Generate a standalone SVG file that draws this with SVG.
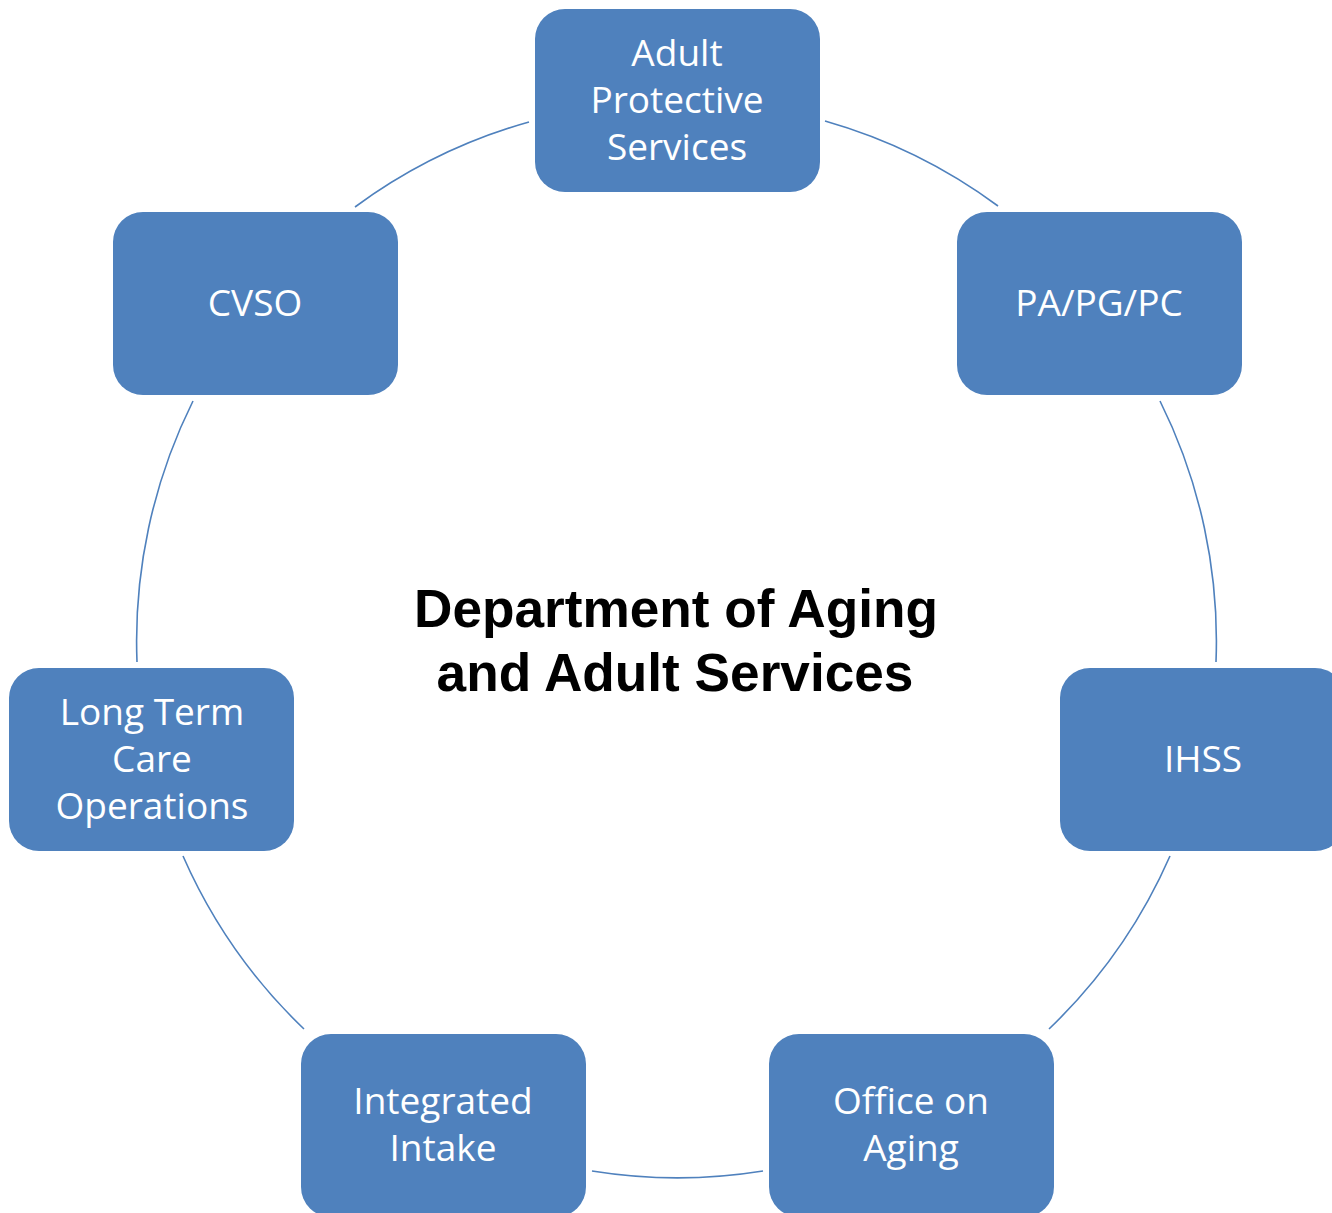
<svg xmlns="http://www.w3.org/2000/svg" width="1332" height="1213" viewBox="0 0 1332 1213">
<style>
.node rect{fill:#4F81BD;}
.node text{fill:#FFFFFF;font-family:"Open Sans","Noto Sans",sans-serif;font-size:37px;text-anchor:middle;}
.conn path{fill:none;stroke:#4F81BD;stroke-width:1.6;}
.title{font-family:"Liberation Sans",Arial,sans-serif;font-weight:bold;font-size:53.2px;text-anchor:middle;fill:#000;}
</style>
<rect width="1332" height="1213" fill="#FFFFFF"/>
<g id="connectors" class="conn">
<path d="M825,121 A539,539 0 0 1 998,206"/>
<path d="M1160,401 A539,539 0 0 1 1216,662"/>
<path d="M1170,856 A539,539 0 0 1 1049,1029"/>
<path d="M763,1171 A539,539 0 0 1 592,1171"/>
<path d="M304,1029 A539,539 0 0 1 183,856"/>
<path d="M137,662 A539,539 0 0 1 193,401"/>
<path d="M355,207 A539,539 0 0 1 529,122"/>
</g>
<g id="title">
<text class="title" x="676" y="627">Department of Aging</text>
<text class="title" x="675" y="691">and Adult Services</text>
</g>
<g id="node-aps" class="node">
<rect x="535" y="9" width="285" height="183" rx="30"/>
<text x="677" y="66">Adult</text>
<text x="677" y="113">Protective</text>
<text x="677" y="160">Services</text>
</g>
<g id="node-papgpc" class="node">
<rect x="957" y="212" width="285" height="183" rx="30"/>
<text x="1099" y="316">PA/PG/PC</text>
</g>
<g id="node-ihss" class="node">
<rect x="1060" y="668" width="285" height="183" rx="30"/>
<text x="1203" y="772">IHSS</text>
</g>
<g id="node-office" class="node">
<rect x="769" y="1034" width="285" height="183" rx="30"/>
<text x="911" y="1114">Office on</text>
<text x="911" y="1161">Aging</text>
</g>
<g id="node-intake" class="node">
<rect x="301" y="1034" width="285" height="183" rx="30"/>
<text x="443" y="1114">Integrated</text>
<text x="443" y="1161">Intake</text>
</g>
<g id="node-ltc" class="node">
<rect x="9" y="668" width="285" height="183" rx="30"/>
<text x="152" y="725">Long Term</text>
<text x="152" y="772">Care</text>
<text x="152" y="819">Operations</text>
</g>
<g id="node-cvso" class="node">
<rect x="113" y="212" width="285" height="183" rx="30"/>
<text x="255" y="316">CVSO</text>
</g>
</svg>
